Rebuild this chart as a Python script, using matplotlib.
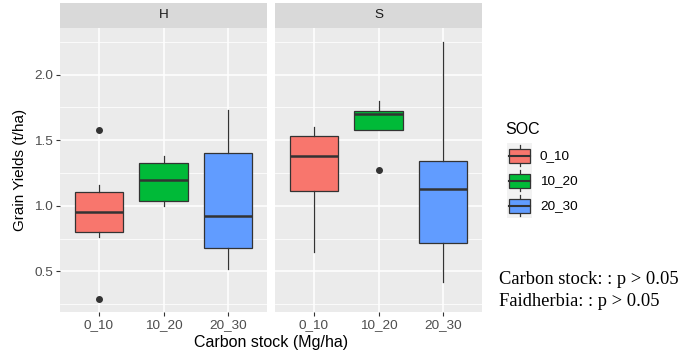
import matplotlib.pyplot as plt
from matplotlib.patches import Rectangle

plt.rcParams['font.family'] = ['Liberation Sans', 'DejaVu Sans']

panels = ["H", "S"]
soc = ["0_10", "10_20", "20_30"]
colors = ["#F8766D", "#00BA38", "#619CFF"]

# box statistics (t/ha)
h_whislo = [0.76, 1.00, 0.52]
h_q1 = [0.80, 1.04, 0.68]
h_med = [0.955, 1.195, 0.92]
h_q3 = [1.105, 1.33, 1.405]
h_whishi = [1.16, 1.38, 1.73]
h_fliers = [[1.575, 0.29], [], []]

s_whislo = [0.65, 1.575, 0.415]
s_q1 = [1.115, 1.575, 0.715]
s_med = [1.38, 1.70, 1.13]
s_q3 = [1.53, 1.72, 1.34]
s_whishi = [1.60, 1.80, 2.25]
s_fliers = [[], [1.275], []]

notes = ["Carbon stock: : p > 0.05", "Faidherbia: : p > 0.05"]

data = {
    "H": (h_whislo, h_q1, h_med, h_q3, h_whishi, h_fliers),
    "S": (s_whislo, s_q1, s_med, s_q3, s_whishi, s_fliers),
}

dark = "#333333"
fig = plt.figure(figsize=(6.84, 3.56), dpi=100)

lefts = [60 / 684, 275 / 684]
pw = 207 / 684
pb, ph = 1 - 312 / 356, 284 / 356

for i, p in enumerate(panels):
    ax = fig.add_axes([lefts[i], pb, pw, ph])
    ax.set_facecolor("#EBEBEB")
    lo, q1, med, q3, hi, fl = data[p]
    stats = [dict(whislo=lo[k], q1=q1[k], med=med[k], q3=q3[k], whishi=hi[k], fliers=fl[k])
             for k in range(3)]
    bp = ax.bxp(stats, positions=[1, 2, 3], widths=0.75, patch_artist=True, showcaps=False,
                boxprops=dict(edgecolor=dark, linewidth=0.9),
                medianprops=dict(color=dark, linewidth=1.8),
                whiskerprops=dict(color=dark, linewidth=0.9),
                flierprops=dict(marker="o", markerfacecolor=dark, markeredgecolor=dark, markersize=4))
    for patch, c in zip(bp["boxes"], colors):
        patch.set_facecolor(c)
    for item in bp["boxes"] + bp["medians"] + bp["whiskers"] + bp["fliers"]:
        item.set_zorder(3)
    ax.set_xlim(0.4, 3.6)
    ax.set_ylim(0.19, 2.356)
    ax.set_xticks([1, 2, 3])
    ax.set_xticklabels(soc)
    ax.set_yticks([0.5, 1.0, 1.5, 2.0])
    ax.set_yticks([0.25, 0.75, 1.25, 1.75, 2.25], minor=True)
    ax.grid(True, which="major", color="white", linewidth=1.1, zorder=0)
    ax.grid(True, which="minor", axis="y", color="white", linewidth=0.55, zorder=0)
    ax.set_axisbelow(True)
    for s in ax.spines.values():
        s.set_visible(False)
    ax.tick_params(which="major", colors=dark, length=3, width=0.8, labelcolor="#4D4D4D",
                   labelsize=9.7, pad=2)
    ax.tick_params(which="minor", length=0)
    if i == 0:
        ax.yaxis.set_major_formatter(plt.FormatStrFormatter("%.1f"))
        ax.set_ylabel("Grain Yields (t/ha)", fontsize=11, color="black", labelpad=5)
    else:
        ax.tick_params(axis="y", which="both", left=False, labelleft=False)

    strip = fig.add_axes([lefts[i], 1 - 28 / 356, pw, 25 / 356])
    strip.set_facecolor("#D9D9D9")
    strip.set_xticks([])
    strip.set_yticks([])
    for s in strip.spines.values():
        s.set_visible(False)
    strip.text(0.5, 0.5, p, ha="center", va="center", fontsize=9.7, color="#1A1A1A")

fig.text(271 / 684, 1 - 342 / 356, "Carbon stock (Mg/ha)", ha="center", va="center", fontsize=11.5)

# legend drawn by hand
fig.text(505 / 684, 1 - 130 / 356, "SOC", ha="left", va="center", fontsize=11.5)
lg = fig.add_axes([507 / 684, 1 - 218 / 356, 25 / 684, 75 / 356])
lg.set_xlim(0, 1)
lg.set_ylim(0, 3)
lg.axis("off")
for k, (lab, c) in enumerate(zip(soc, colors)):
    y0 = 2 - k
    lg.add_patch(Rectangle((0, y0), 1, 1, facecolor="#F2F2F2", edgecolor="none"))
    lg.plot([0.5, 0.5], [y0 + 0.08, y0 + 0.92], color=dark, linewidth=0.9)
    lg.add_patch(Rectangle((0.08, y0 + 0.22), 0.84, 0.56, facecolor=c, edgecolor=dark, linewidth=0.9, zorder=3))
    lg.plot([0.08, 0.92], [y0 + 0.5, y0 + 0.5], color=dark, linewidth=1.5, zorder=4)
    fig.text(540 / 684, 1 - (156 + 25 * k) / 356, lab, ha="left", va="center", fontsize=9.7)

for j, t in enumerate(notes):
    fig.text(499 / 684, 1 - (280 + 21 * j) / 356, t, ha="left", va="center", fontsize=13.3,
             family=["Liberation Serif", "DejaVu Serif"])

fig.savefig("out.png", dpi=100)
